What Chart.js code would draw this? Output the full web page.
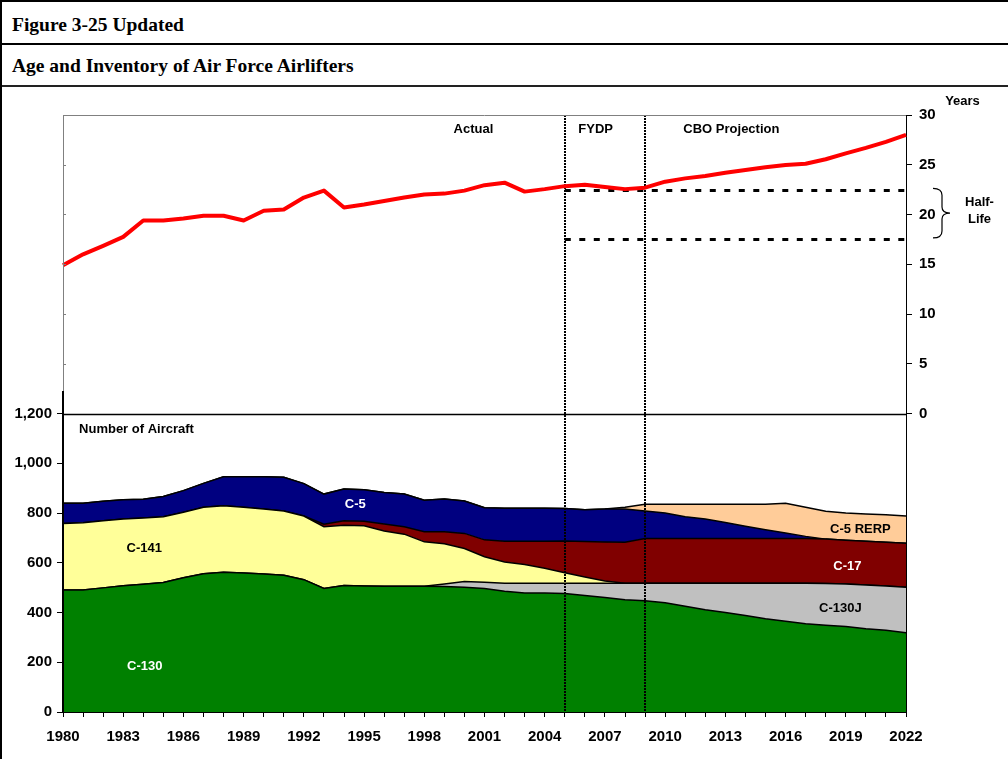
<!DOCTYPE html>
<html>
<head>
<meta charset="utf-8">
<title>Age and Inventory of Air Force Airlifters</title>
<script src="https://cdn.jsdelivr.net/npm/chart.js@4.4.0/dist/chart.umd.min.js"></script>
<style>
  body { margin: 0; background: #fff; }
  #page { position: relative; width: 1008px; height: 759px; overflow: hidden; background: #fff; }
  .rule { position: absolute; left: 0; width: 1008px; background: #000; }
  .title { position: absolute; left: 12px; font: bold 19.5px "Liberation Serif", "Times New Roman", serif; line-height: 20px; white-space: nowrap; color: #000; }
  #chartBox { position: absolute; left: 2px; top: 88px; width: 1006px; height: 671px; }
</style>
</head>
<body>
<div id="page">
  <div class="rule" style="top:0;height:2px"></div>
  <div class="rule" style="top:43px;height:2px"></div>
  <div class="rule" style="top:85px;height:2px;background:#222"></div>
  <div style="position:absolute;left:0;top:0;width:2px;height:759px;background:#000"></div>
  <div class="title" style="top:15px">Figure 3-25 Updated</div>
  <div class="title" style="top:56px">Age and Inventory of Air Force Airlifters</div>
  <div id="chartBox"><canvas id="airlifterChart" width="1006" height="671"></canvas></div>
</div>
<script>
// fiscal years on the shared x axis
const years = ['1980', '1981', '1982', '1983', '1984', '1985', '1986', '1987', '1988', '1989',
               '1990', '1991', '1992', '1993', '1994', '1995', '1996', '1997', '1998', '1999',
               '2000', '2001', '2002', '2003', '2004', '2005', '2006', '2007', '2008', '2009',
               '2010', '2011', '2012', '2013', '2014', '2015', '2016', '2017', '2018', '2019',
               '2020', '2021', '2022'];

// number of aircraft, stacked bottom to top
const c130 = [490, 490, 499, 508, 514, 521, 540, 556, 562, 559, 555, 550, 532, 497, 509, 507, 506, 506, 506, 505,
              502, 496, 485, 478, 478, 476, 468, 460, 451, 447, 439, 425, 411, 400, 388, 375, 365, 355, 349, 344,
              335, 329, 319];
const c130j = [0, 0, 0, 0, 0, 0, 0, 0, 0, 0, 0, 0, 0, 0, 0, 0, 0, 0, 0, 10,
               23, 26, 33, 40, 40, 42, 50, 58, 67, 71, 79, 93, 107, 118, 130, 143, 153, 163, 168, 171,
               176, 178, 183];
const c141 = [268, 271, 270, 268, 266, 264, 263, 267, 267, 264, 261, 258, 256, 248, 242, 242, 222, 209, 178, 161,
              132, 102, 85, 75, 60, 42, 25, 9, 0, 0, 0, 0, 0, 0, 0, 0, 0, 0, 0, 0,
              0, 0, 0];
const c17 = [0, 0, 0, 0, 0, 0, 0, 0, 0, 0, 0, 0, 0, 10, 18, 18, 28, 30, 41, 49,
             61, 68, 83, 93, 108, 127, 142, 156, 164, 179, 179, 179, 179, 179, 179, 179, 179, 179, 178, 175,
             175, 175, 176];
const c5 = [81, 78, 78, 77, 75, 81, 87, 96, 117, 123, 130, 136, 130, 121, 127, 126, 126, 131, 126, 131,
            130, 129, 133, 133, 133, 131, 128, 133, 134, 111, 103, 88, 79, 65, 50, 36, 23, 9, 0, 0,
            0, 0, 0];
const c5rerp = [0, 0, 0, 0, 0, 0, 0, 0, 0, 0, 0, 0, 0, 0, 0, 0, 0, 0, 0, 0,
                0, 0, 0, 0, 0, 0, 0, 0, 7, 27, 35, 50, 59, 73, 88, 102, 119, 117, 112, 110,
                110, 111, 110];

// average fleet age, years (right axis)
const avgAge = [14.9, 16.0, 16.85, 17.75, 19.4, 19.4, 19.6, 19.87, 19.87, 19.4, 20.37, 20.5, 21.7, 22.4, 20.7,
                21.0, 21.35, 21.7, 22.0, 22.1, 22.4, 22.95, 23.2, 22.3, 22.55, 22.85, 23.0, 22.76, 22.55, 22.7,
                23.3, 23.63, 23.87, 24.2, 24.47, 24.74, 24.97, 25.1, 25.55, 26.15, 26.7, 27.3, 28.0];

// half-life band and period breaks
const halfLifeBounds = [22.4, 17.5];
const halfLifeFrom = '2005';
const periodBreaks = ['2005', '2009'];

const stackNames = ['C-130', 'C-130J', 'C-141', 'C-17', 'C-5', 'C-5 RERP'];
const stackColors = ['#008000', '#C0C0C0', '#FFFF99', '#800000', '#000080', '#FFCC99'];
const stackValues = [c130, c130j, c141, c17, c5, c5rerp];

const FONT = '"Liberation Sans", Arial, sans-serif';
Chart.defaults.font.family = FONT;
Chart.defaults.color = '#000';

// helper: year (may be fractional) -> category index
function yi(year) { return year - 1980; }

const areaSets = stackValues.map((vals, i) => ({
    label: stackNames[i],
    data: vals,
    yAxisID: 'yN',
    backgroundColor: stackColors[i],
    borderColor: '#000',
    borderWidth: 1.5,
    fill: i === 0 ? 'origin' : '-1',
    pointRadius: 0,
    tension: 0,
    order: 2
}));

const ageSet = {
    label: 'Average age',
    data: avgAge,
    yAxisID: 'yA',
    borderColor: '#FF0000',
    borderWidth: 4,
    borderJoinStyle: 'round',
    pointRadius: 0,
    fill: false,
    tension: 0,
    order: 1
};

const halfLifeSets = halfLifeBounds.map(v => ({
    label: 'Half-life',
    data: years.map(y => (+y >= +halfLifeFrom ? v : null)),
    yAxisID: 'yA',
    borderColor: '#000',
    borderWidth: 3,
    borderDash: [6, 8.5],
    pointRadius: 0,
    fill: false,
    tension: 0,
    order: 1
}));

// label notes: [text, year, axis, value, color]
const notes = [
    ['Actual', 2000.45, 'yA', 28.6, '#000'],
    ['FYDP', 2006.54, 'yA', 28.6, '#000'],
    ['CBO Projection', 2013.3, 'yA', 28.6, '#000'],
    ['C-141', 1984.05, 'yN', 657, '#000'],
    ['C-130', 1984.07, 'yN', 185, '#fff'],
    ['C-5', 1994.56, 'yN', 836, '#fff'],
    ['C-5 RERP', 2019.73, 'yN', 732, '#000'],
    ['C-17', 2019.08, 'yN', 587, '#fff'],
    ['C-130J', 2018.73, 'yN', 417, '#000']
];

const panelDecor = {
    id: 'panelDecor',
    afterDatasetDraw(chart, args) {
        if (args.index !== 0) return;
        // dotted period breaks sit over the areas, under the age line
        const { ctx, chartArea: a, scales: { x } } = chart;
        ctx.save();
        ctx.strokeStyle = '#000';
        ctx.lineWidth = 2;
        ctx.setLineDash([2, 1]);
        periodBreaks.forEach(yr => {
            const px = Math.round(x.getPixelForValue(years.indexOf(yr)));
            ctx.beginPath();
            ctx.moveTo(px, a.top);
            ctx.lineTo(px, a.bottom);
            ctx.stroke();
        });
        ctx.restore();
    },
    afterDraw(chart) {
        const { ctx, chartArea: a, scales: { x, yN, yA } } = chart;
        ctx.save();

        // top panel frame (grey) and bottom panel axis (black)
        const split = yN.getPixelForValue(1290);
        ctx.strokeStyle = '#808080';
        ctx.lineWidth = 1;
        ctx.beginPath();
        ctx.moveTo(a.left, a.top + 0.5);
        ctx.lineTo(a.right, a.top + 0.5);
        ctx.moveTo(a.left + 0.5, a.top);
        ctx.lineTo(a.left + 0.5, split);
        [30, 25, 20, 15, 10, 5].forEach(v => {
            const py = Math.round(yA.getPixelForValue(v)) + 0.5;
            ctx.moveTo(a.left, py);
            ctx.lineTo(a.left + 3, py);
        });
        ctx.stroke();

        ctx.strokeStyle = '#000';
        ctx.lineWidth = 2;
        ctx.beginPath();
        ctx.moveTo(a.left, split);
        ctx.lineTo(a.left, a.bottom);
        ctx.stroke();

        const mid = Math.round(yN.getPixelForValue(1200)) + 0.5;
        ctx.lineWidth = 1.5;
        ctx.beginPath();
        ctx.moveTo(a.left, mid);
        ctx.lineTo(a.right, mid);
        ctx.stroke();

        // text notes
        ctx.font = 'bold 13px ' + FONT;
        ctx.textAlign = 'center';
        ctx.textBaseline = 'middle';
        notes.forEach(([t, yr, axis, v, col]) => {
            ctx.fillStyle = col;
            ctx.fillText(t, x.getPixelForValue(yi(yr)), chart.scales[axis].getPixelForValue(v));
        });
        ctx.fillStyle = '#000';
        ctx.textAlign = 'left';
        ctx.fillText('Number of Aircraft', x.getPixelForValue(yi(1980.8)), yN.getPixelForValue(1137));

        ctx.textAlign = 'center';
        ctx.fillText('Years', a.right + 56.5, a.top - 13.3);
        ctx.fillText('Half-', a.right + 73.5, yA.getPixelForValue(21.18));
        ctx.fillText('Life', a.right + 73.5, yA.getPixelForValue(19.54));

        // brace next to the half-life band
        const bTop = yA.getPixelForValue(22.63);
        const bBot = yA.getPixelForValue(17.65);
        const bMid = (bTop + bBot) / 2;
        const x0 = a.right + 27, x1 = a.right + 36, x2 = a.right + 44;
        ctx.lineWidth = 1.2;
        ctx.beginPath();
        ctx.moveTo(x0, bTop);
        ctx.quadraticCurveTo(x1, bTop, x1, bTop + 7);
        ctx.lineTo(x1, bMid - 6);
        ctx.quadraticCurveTo(x1, bMid, x2, bMid);
        ctx.quadraticCurveTo(x1, bMid, x1, bMid + 6);
        ctx.lineTo(x1, bBot - 7);
        ctx.quadraticCurveTo(x1, bBot, x0, bBot);
        ctx.stroke();

        ctx.restore();
    }
};

const tickFont = { family: FONT, size: 15, weight: 'bold' };

new Chart(document.getElementById('airlifterChart'), {
    type: 'line',
    data: {
        labels: years,
        datasets: [...areaSets, ageSet, ...halfLifeSets]
    },
    options: {
        responsive: false,
        animation: false,
        devicePixelRatio: 1,
        layout: { padding: { top: 27, left: 0, right: 0, bottom: 0 } },
        plugins: {
            legend: { display: false },
            tooltip: { enabled: false }
        },
        scales: {
            x: {
                type: 'category',
                offset: false,
                grid: { drawOnChartArea: false, drawTicks: true, tickLength: 5, color: '#000', lineWidth: 1 },
                border: { display: true, color: '#000', width: 2 },
                ticks: {
                    autoSkip: false,
                    maxRotation: 0,
                    padding: 11,
                    color: '#000',
                    font: tickFont,
                    callback: (v, i) => ((+years[i] - 1980) % 3 === 0 ? years[i] : '')
                },
                afterFit: s => { s.height = 47; }
            },
            yN: {
                position: 'left',
                stacked: true,
                min: 0,
                max: 2400,
                grid: {
                    drawOnChartArea: false,
                    tickLength: 6,
                    color: c => (c.tick && c.tick.value <= 1200 ? '#000' : 'rgba(0,0,0,0)')
                },
                border: { display: false },
                ticks: {
                    stepSize: 200,
                    padding: 5,
                    color: '#000',
                    font: tickFont,
                    callback: v => (v <= 1200 ? v.toLocaleString('en-US') : null)
                },
                afterFit: s => { s.width = 61; }
            },
            yA: {
                position: 'right',
                min: -30,
                max: 30,
                grid: {
                    drawOnChartArea: false,
                    tickLength: 6,
                    color: c => (c.tick && c.tick.value >= 0 ? '#000' : 'rgba(0,0,0,0)')
                },
                border: { display: true, color: '#000', width: 1 },
                ticks: {
                    stepSize: 5,
                    padding: 7,
                    color: '#000',
                    font: tickFont,
                    callback: v => (v >= 0 ? String(v) : null)
                },
                afterFit: s => { s.width = 102; }
            }
        }
    },
    plugins: [panelDecor]
});
</script>
</body>
</html>
